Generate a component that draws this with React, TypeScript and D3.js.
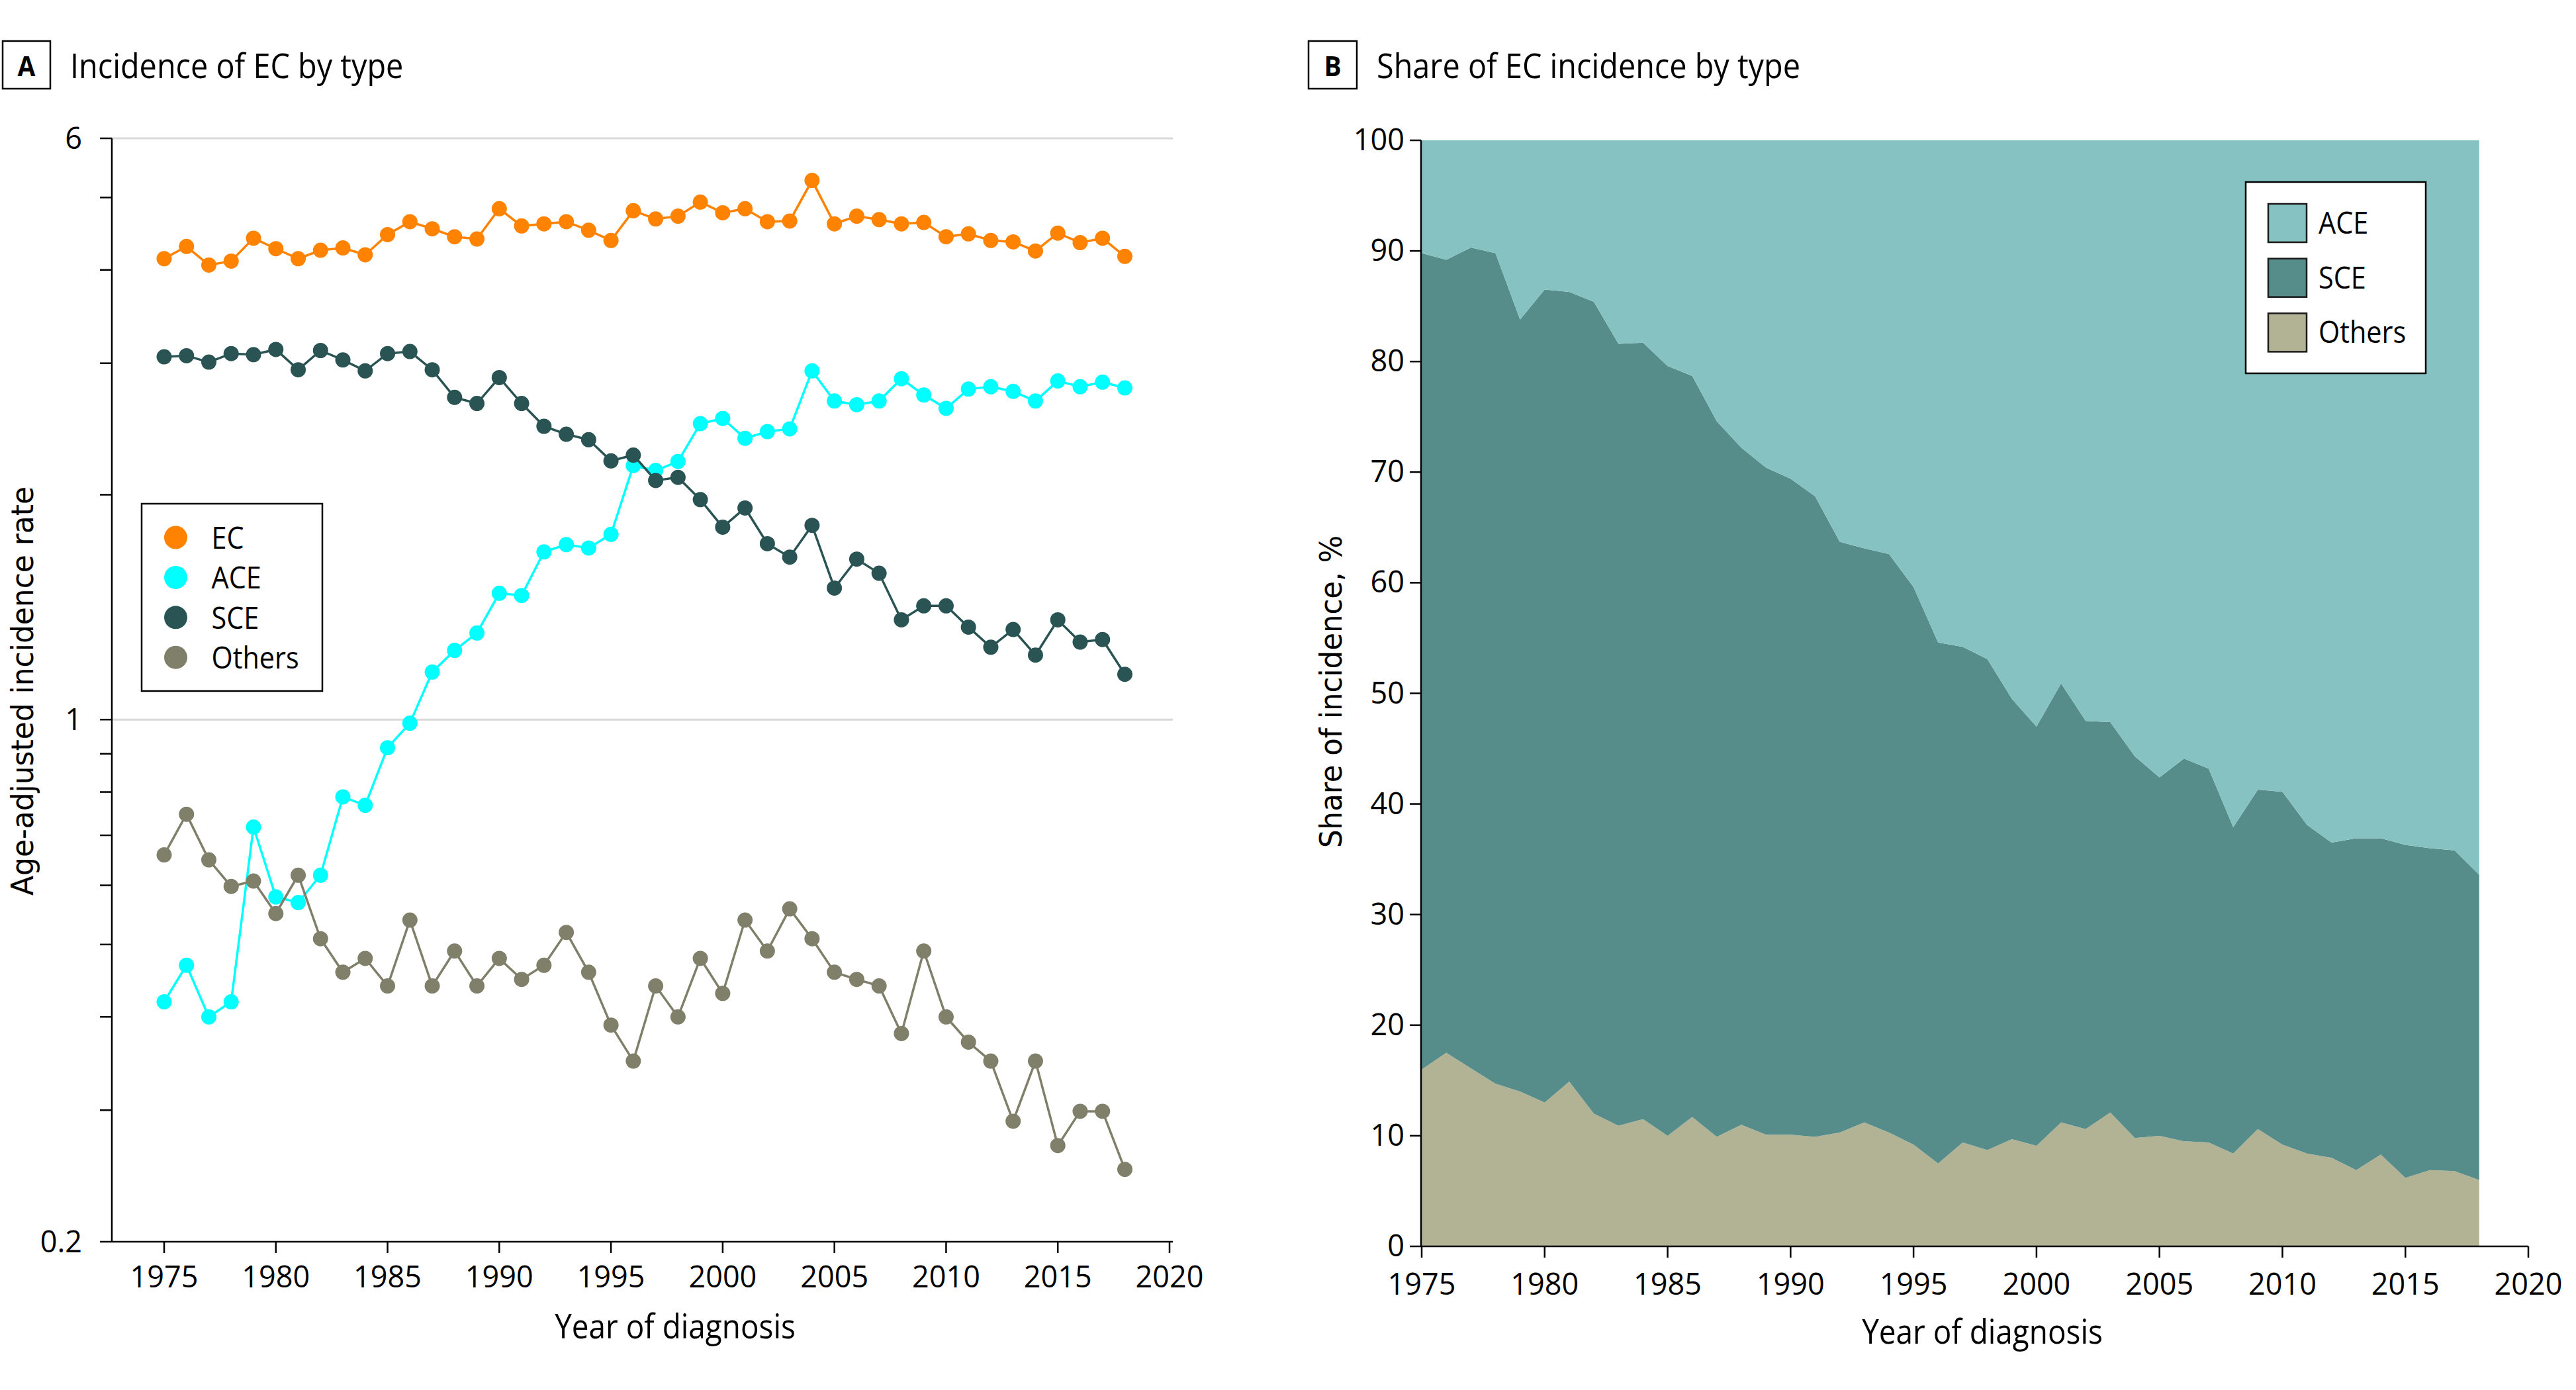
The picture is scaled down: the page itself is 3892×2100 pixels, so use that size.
import React from 'react';
import * as d3 from 'd3';

// ---------- DATA ----------
const years = [1975, 1976, 1977, 1978, 1979, 1980, 1981, 1982, 1983, 1984, 1985, 1986, 1987, 1988, 1989, 1990, 1991, 1992, 1993, 1994, 1995, 1996, 1997, 1998, 1999, 2000, 2001, 2002, 2003, 2004, 2005, 2006, 2007, 2008, 2009, 2010, 2011, 2012, 2013, 2014, 2015, 2016, 2017, 2018];

// Panel A: age-adjusted incidence rate
const ecRate = [4.14, 4.30, 4.06, 4.11, 4.41, 4.27, 4.14, 4.25, 4.28, 4.19, 4.46, 4.64, 4.54, 4.43, 4.40, 4.83, 4.58, 4.61, 4.64, 4.52, 4.38, 4.80, 4.68, 4.72, 4.93, 4.77, 4.83, 4.64, 4.65, 5.27, 4.61, 4.72, 4.67, 4.61, 4.63, 4.43, 4.47, 4.38, 4.36, 4.24, 4.48, 4.35, 4.41, 4.17];
const aceRate = [0.419, 0.469, 0.40, 0.419, 0.718, 0.579, 0.569, 0.619, 0.788, 0.768, 0.917, 0.989, 1.158, 1.238, 1.306, 1.476, 1.466, 1.677, 1.715, 1.697, 1.770, 2.188, 2.155, 2.216, 2.49, 2.53, 2.38, 2.43, 2.45, 2.93, 2.67, 2.64, 2.67, 2.86, 2.72, 2.61, 2.77, 2.79, 2.75, 2.67, 2.84, 2.79, 2.83, 2.78];
const sceRate = [3.06, 3.07, 3.01, 3.09, 3.08, 3.13, 2.94, 3.12, 3.03, 2.93, 3.09, 3.11, 2.94, 2.70, 2.65, 2.87, 2.65, 2.47, 2.41, 2.37, 2.22, 2.26, 2.09, 2.11, 1.97, 1.81, 1.92, 1.72, 1.65, 1.82, 1.50, 1.64, 1.57, 1.36, 1.42, 1.42, 1.33, 1.25, 1.32, 1.22, 1.36, 1.27, 1.28, 1.15];
const othersRate = [0.659, 0.747, 0.649, 0.598, 0.608, 0.550, 0.619, 0.509, 0.459, 0.479, 0.440, 0.539, 0.440, 0.490, 0.440, 0.479, 0.449, 0.469, 0.519, 0.459, 0.390, 0.349, 0.440, 0.40, 0.479, 0.430, 0.539, 0.490, 0.558, 0.509, 0.459, 0.449, 0.440, 0.380, 0.490, 0.40, 0.370, 0.349, 0.290, 0.349, 0.269, 0.299, 0.299, 0.250];

// Panel B: share of incidence, %
const othersShare = [16.0, 17.5, 16.1, 14.7, 14.0, 13.0, 14.9, 12.0, 10.9, 11.5, 10.0, 11.7, 9.9, 11.0, 10.1, 10.1, 9.9, 10.3, 11.2, 10.3, 9.2, 7.5, 9.4, 8.7, 9.7, 9.1, 11.2, 10.6, 12.1, 9.8, 10.0, 9.5, 9.4, 8.4, 10.6, 9.2, 8.4, 8.0, 6.9, 8.3, 6.2, 6.9, 6.8, 6.0];
const sceShare = [73.8, 71.7, 74.2, 75.1, 69.8, 73.5, 71.4, 73.4, 70.7, 70.2, 69.6, 67.0, 64.7, 61.2, 60.3, 59.3, 57.9, 53.4, 51.9, 52.3, 50.4, 47.1, 44.8, 44.4, 39.8, 37.9, 39.7, 36.9, 35.3, 34.5, 32.4, 34.6, 33.8, 29.5, 30.7, 31.9, 29.7, 28.5, 30.0, 28.6, 30.1, 29.1, 29.0, 27.6];
const aceShare = [10.2, 10.8, 9.7, 10.2, 16.2, 13.5, 13.7, 14.6, 18.4, 18.3, 20.4, 21.3, 25.4, 27.8, 29.6, 30.6, 32.2, 36.3, 36.9, 37.4, 40.4, 45.4, 45.8, 46.9, 50.5, 53.0, 49.1, 52.5, 52.6, 55.7, 57.6, 55.9, 56.8, 62.1, 58.7, 58.9, 61.9, 63.5, 63.1, 63.1, 63.7, 64.0, 64.2, 66.4];

const xTickYears = [1975, 1980, 1985, 1990, 1995, 2000, 2005, 2010, 2015, 2020];
const yTicksA = [0.2, 0.3, 0.4, 0.5, 0.6, 0.7, 0.8, 0.9, 1, 2, 3, 4, 5, 6];
const yLabelsA = [0.2, 1, 6];
const yGridA = [1, 6];
const yTicksB = [0, 10, 20, 30, 40, 50, 60, 70, 80, 90, 100];

const lineSeries = [
  { name: 'EC', values: ecRate, color: '#FF8200' },
  { name: 'ACE', values: aceRate, color: '#00FFFF' },
  { name: 'SCE', values: sceRate, color: '#2A5454' },
  { name: 'Others', values: othersRate, color: '#7F7F6A' },
];

const areaKeys = ['others', 'sce', 'ace'];
const areaColors: Record<string, string> = { ace: '#86C2C1', sce: '#568D8B', others: '#B2B394' };
const areaLegend = [
  { key: 'ace', label: 'ACE' },
  { key: 'sce', label: 'SCE' },
  { key: 'others', label: 'Others' },
];

// ---------- STYLE ----------
const FONT = "'Open Sans', 'Noto Sans', sans-serif";
const WIDE = "'DejaVu Sans', Verdana, sans-serif";

function CText(props: any) {
  const { x, y, size, anchor = 'start', weight = 400, sx = 0.9, children } = props;
  return (
    <text
      transform={`translate(${x},${y}) scale(${sx},1)`}
      fontSize={size}
      fontFamily={FONT}
      fontWeight={weight}
      textAnchor={anchor}
      fill="#000"
    >
      {children}
    </text>
  );
}

export default function App() {
  const W = 3892;
  const H = 2100;

  // Panel A
  const xA = d3.scaleLinear().domain([1975, 2020]).range([248, 1767]);
  const yA = d3.scaleLog().domain([0.2, 6]).range([1876, 209]);
  const axA = { left: 169, right: 1772, top: 209, bottom: 1876 };
  const lineGen = d3
    .line<number>()
    .x((_, i) => xA(years[i]))
    .y((d) => yA(d));

  // Panel B
  const xB = d3.scaleLinear().domain([1975, 2020]).range([2148, 3820]);
  const yB = d3.scaleLinear().domain([0, 100]).range([1883, 212]);
  const rows = years.map((yr, i) => ({ year: yr, others: othersShare[i], sce: sceShare[i], ace: aceShare[i] }));
  const stacked = d3.stack<any>().keys(areaKeys)(rows);
  const areaGen = d3
    .area<any>()
    .x((d) => xB(d.data.year))
    .y0((d) => yB(d[0]))
    .y1((d) => yB(d[1]));

  const fmtA = (v: number) => (v === 0.2 ? '0.2' : String(v));
  const TICK = 45;

  return (
    <svg
      width={W}
      height={H}
      viewBox={`0 0 ${W} ${H}`}
      style={{ position: 'absolute', left: 0, top: 0, display: 'block', background: '#fff' }}
    >
      <rect x={0} y={0} width={W} height={H} fill="#fff" />

      {/* ================= PANEL A ================= */}
      <rect x={4} y={62} width={72} height={72} fill="none" stroke="#000" strokeWidth={2.5} />
      <CText x={40} y={115} size={41} weight={700} anchor="middle" sx={0.95}>A</CText>
      <CText x={106} y={118} size={52}>Incidence of EC by type</CText>

      {/* grid */}
      {yGridA.map((v) => (
        <line key={'g' + v} x1={axA.left} x2={axA.right} y1={yA(v)} y2={yA(v)} stroke="#D9D9D9" strokeWidth={3} />
      ))}

      {/* lines and markers */}
      {lineSeries.map((s) => (
        <g key={s.name}>
          <path d={lineGen(s.values) || ''} fill="none" stroke={s.color} strokeWidth={3.5} />
          {s.values.map((v, i) => (
            <circle key={i} cx={xA(years[i])} cy={yA(v)} r={11.5} fill={s.color} />
          ))}
        </g>
      ))}

      {/* axes */}
      <line x1={axA.left} x2={axA.left} y1={axA.top} y2={axA.bottom + 1} stroke="#000" strokeWidth={2.5} />
      <line x1={axA.left} x2={axA.right} y1={axA.bottom} y2={axA.bottom} stroke="#000" strokeWidth={2.5} />
      {yTicksA.map((v) => (
        <line key={'yt' + v} x1={151} x2={axA.left} y1={yA(v)} y2={yA(v)} stroke="#000" strokeWidth={2.5} />
      ))}
      {yLabelsA.map((v) => (
        <text key={'yl' + v} x={124} y={yA(v) + 16} fontSize={TICK} fontFamily={FONT} textAnchor="end" fill="#000">
          {fmtA(v)}
        </text>
      ))}
      {xTickYears.map((yr) => (
        <g key={'xa' + yr}>
          <line x1={xA(yr)} x2={xA(yr)} y1={axA.bottom} y2={axA.bottom + 17} stroke="#000" strokeWidth={2.5} />
          <text x={xA(yr)} y={1945} fontSize={TICK} fontFamily={FONT} textAnchor="middle" fill="#000">
            {yr}
          </text>
        </g>
      ))}
      <CText x={1020} y={2022} size={51} anchor="middle">Year of diagnosis</CText>
      <text
        transform="translate(50,1044) rotate(-90)"
        fontSize={46}
        fontFamily={WIDE}
        textAnchor="middle"
        textLength={618}
        lengthAdjust="spacingAndGlyphs"
        fill="#000"
      >
        Age-adjusted incidence rate
      </text>

      {/* legend A */}
      <rect x={214} y={761} width={273} height={283} fill="#fff" stroke="#000" strokeWidth={2.5} />
      {lineSeries.map((s, i) => (
        <g key={'la' + s.name}>
          <circle cx={265.5} cy={812 + i * 60.4} r={17.5} fill={s.color} />
          <CText x={319.5} y={812 + i * 60.4 + 17} size={46}>{s.name}</CText>
        </g>
      ))}

      {/* ================= PANEL B ================= */}
      <rect x={1977} y={62} width={73} height={72} fill="none" stroke="#000" strokeWidth={2.5} />
      <CText x={2013.5} y={115} size={41} weight={700} anchor="middle" sx={0.95}>B</CText>
      <CText x={2080} y={118} size={52}>Share of EC incidence by type</CText>

      {stacked.map((layer: any) => (
        <path key={layer.key} d={areaGen(layer) || ''} fill={areaColors[layer.key]} stroke="none" />
      ))}

      <line x1={2147} x2={2147} y1={yB(100)} y2={yB(0) + 1} stroke="#000" strokeWidth={2.5} />
      <line x1={2147} x2={3820} y1={yB(0)} y2={yB(0)} stroke="#000" strokeWidth={2.5} />
      {yTicksB.map((v) => (
        <g key={'yb' + v}>
          <line x1={2130} x2={2147} y1={yB(v)} y2={yB(v)} stroke="#000" strokeWidth={2.5} />
          <text x={2122} y={yB(v) + 15} fontSize={TICK} fontFamily={FONT} textAnchor="end" fill="#000">
            {v}
          </text>
        </g>
      ))}
      {xTickYears.map((yr) => (
        <g key={'xb' + yr}>
          <line x1={xB(yr)} x2={xB(yr)} y1={yB(0)} y2={yB(0) + 17} stroke="#000" strokeWidth={2.5} />
          <text x={xB(yr)} y={1956} fontSize={TICK} fontFamily={FONT} textAnchor="middle" fill="#000">
            {yr}
          </text>
        </g>
      ))}
      <CText x={2995} y={2030} size={51} anchor="middle">Year of diagnosis</CText>
      <text
        transform="translate(2027,1045) rotate(-90)"
        fontSize={46}
        fontFamily={WIDE}
        textAnchor="middle"
        textLength={472}
        lengthAdjust="spacingAndGlyphs"
        fill="#000"
      >
        Share of incidence, %
      </text>

      {/* legend B */}
      <rect x={3393} y={275} width={272} height={289} fill="#fff" stroke="#000" strokeWidth={2.5} />
      {areaLegend.map((l, i) => (
        <g key={'lb' + l.key}>
          <rect x={3427} y={308 + i * 82.7} width={58} height={58} fill={areaColors[l.key]} stroke="#1a1a1a" strokeWidth={2.5} />
          <CText x={3503} y={353 + i * 82.7} size={46}>{l.label}</CText>
        </g>
      ))}
    </svg>
  );
}
